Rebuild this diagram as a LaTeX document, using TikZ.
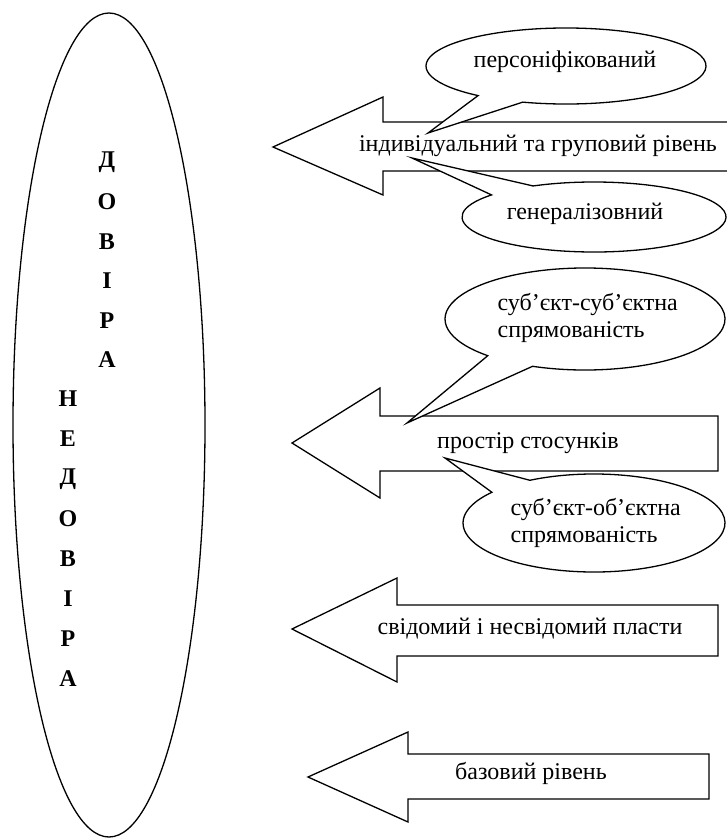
\documentclass[tikz,border=0pt]{standalone}
\usepackage{fontspec}
\setmainfont{Liberation Serif}
\usetikzlibrary{calc}
\begin{document}
\begin{tikzpicture}[x=1pt, y=-1pt, line width=1.3pt, line join=miter,
  blockarrow/.style={draw=black, fill=white},
  bubble/.style={draw=black, fill=white},
  txt/.style={font=\fontsize{24}{27}\selectfont, inner sep=0pt},
  twoline/.style={txt, align=left, anchor=west},
  letter/.style={font=\fontsize{24}{27}\selectfont\bfseries, inner sep=0pt}]
\useasboundingbox (0,0) rectangle (727,839);
\clip (0,0) rectangle (727,839);

% central oval with the two vertical words
\draw (109,425) ellipse [x radius=96, y radius=412];
\foreach \ch [count=\i] in {Д,О,В,І,Р,А}
  \node[letter] (trust\i) at (107,{162+39.6*(\i-1)}) {\ch};
\foreach \ch [count=\i] in {Н,Е,Д,О,В,І,Р,А}
  \node[letter] (distrust\i) at (68,{399+40*(\i-1)}) {\ch};

% block arrows pointing to the oval
\draw[blockarrow] (273,147) -- (383,97) -- (383,122) -- (760,122) -- (760,171)
  -- (383,171) -- (383,195) -- cycle;
\draw[blockarrow] (292,443) -- (380,388) -- (380,416) -- (718,416) -- (718,471)
  -- (380,471) -- (380,498) -- cycle;
\draw[blockarrow] (292,629) -- (397,578) -- (397,605) -- (718,605) -- (718,656)
  -- (397,656) -- (397,682) -- cycle;
\draw[blockarrow] (308,777) -- (408,732) -- (408,754) -- (709,754) -- (709,799)
  -- (408,799) -- (408,822) -- cycle;

\node[txt] (lvl1) at (538,146) {індивідуальний та груповий рівень};
\node[txt] (lvl2) at (528,443) {простір стосунків};
\node[txt] (lvl3) at (530,629) {свідомий і несвідомий пласти};
\node[txt] (lvl4) at (531,773) {базовий рівень};

% speech bubbles: centre, tail tip
\coordinate (cP) at (566,66);  \coordinate (tP) at (428,133);
\coordinate (cG) at (594,217); \coordinate (tG) at (412,158);
\coordinate (cS) at (585,319); \coordinate (tS) at (407,423);
\coordinate (cO) at (594,523); \coordinate (tO) at (445,458);

\draw[bubble] ($(cP)+(108:140 and 38)$)
  arc[start angle=108, end angle=-231.1, x radius=140, y radius=38] -- (tP) -- cycle;
\draw[bubble] ($(cG)+(242.5:132 and 35)$)
  arc[start angle=242.5, end angle=579.1, x radius=132, y radius=35] -- (tG) -- cycle;
\draw[bubble] ($(cS)+(112:140 and 51)$)
  arc[start angle=112, end angle=-226, x radius=140, y radius=51] -- (tS) -- cycle;
\draw[bubble] ($(cO)+(240.7:131 and 49)$)
  arc[start angle=240.7, end angle=578.8, x radius=131, y radius=49] -- (tO) -- cycle;

\node[txt] (personal) at (565,62) {персоніфікований};
\node[txt] (general) at (585,214) {генералізовний};
\node[twoline] (subsub) at (497,318) {суб’єкт-суб’єктна\\спрямованість};
\node[twoline] (subobj) at (510,523) {суб’єкт-об’єктна\\спрямованість};
\end{tikzpicture}
\end{document}
